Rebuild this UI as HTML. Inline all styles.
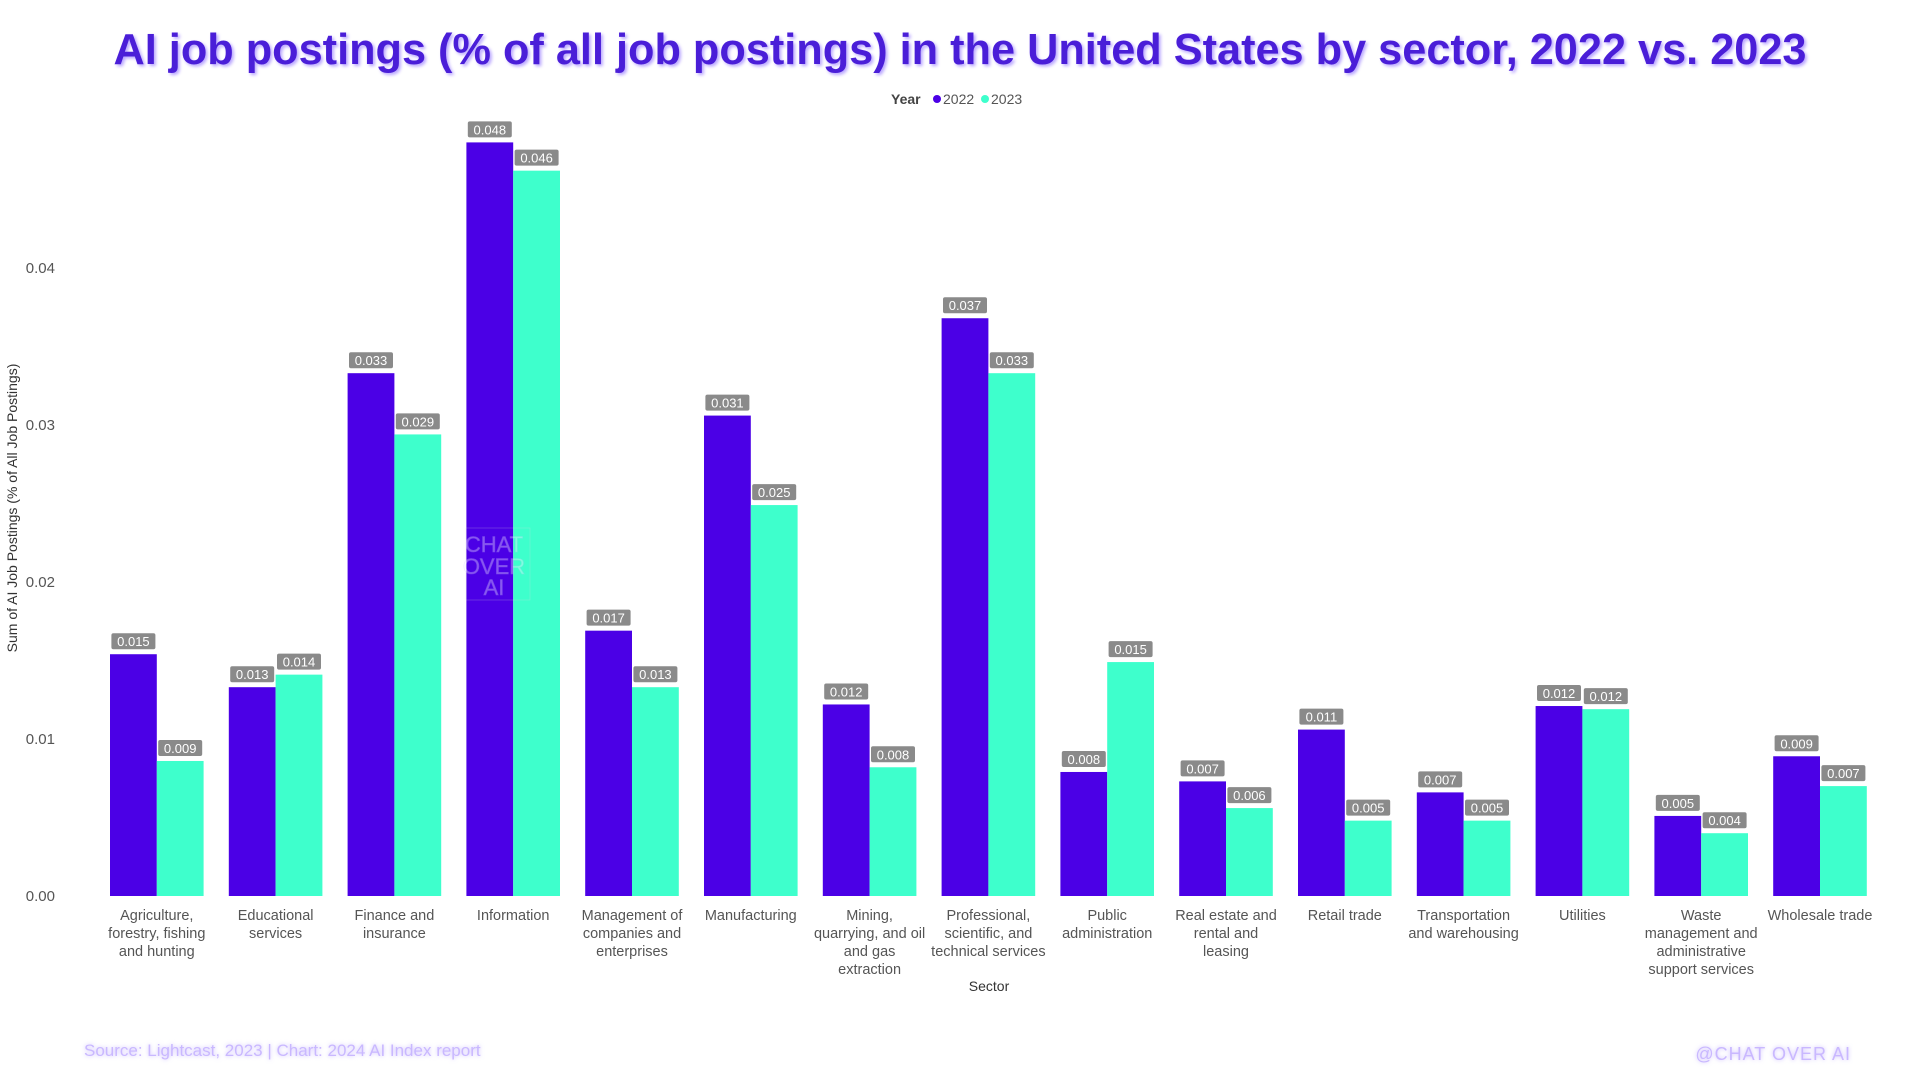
<!DOCTYPE html>
<html><head><meta charset="utf-8">
<style>
html,body{margin:0;padding:0;background:#fff;}
svg{display:block;font-family:"Liberation Sans",sans-serif;}
</style></head>
<body>
<svg id="chart" width="1920" height="1080" viewBox="0 0 1920 1080" xmlns="http://www.w3.org/2000/svg">
<defs>
<filter id="glow" x="-10%" y="-50%" width="120%" height="200%"><feGaussianBlur stdDeviation="2" result="b"/><feMerge><feMergeNode in="b"/><feMergeNode in="SourceGraphic"/></feMerge></filter>
</defs>
<text x="960" y="64" text-anchor="middle" font-size="44" font-weight="bold" fill="#4a1ed8" textLength="1693" lengthAdjust="spacingAndGlyphs" style="text-shadow:2px 2px 3px #b9a6ff">AI job postings (% of all job postings) in the United States by sector, 2022 vs. 2023</text>
<g font-size="14">
<text x="891" y="104" font-weight="bold" fill="#444">Year</text>
<circle cx="937" cy="99" r="4" fill="#4b00e6"/>
<text x="943" y="104" fill="#555">2022</text>
<circle cx="985" cy="99" r="4" fill="#3effcc"/>
<text x="991" y="104" fill="#555">2023</text>
</g>
<text transform="translate(17,508) rotate(-90)" text-anchor="middle" font-size="14" fill="#333">Sum of AI Job Postings (% of All Job Postings)</text>
<text x="989" y="991" text-anchor="middle" font-size="14" fill="#333">Sector</text>
<g id="yaxis"></g>
<g id="bars"></g>
<g id="xaxis"></g>
<g opacity="0.35" font-size="22" fill="#fff" stroke="#c9c0ff" stroke-width="0.6" text-anchor="middle">
<rect x="466" y="528" width="64" height="72" fill="none" stroke="#ddd"/>
<text x="494" y="552">CHAT</text><text x="494" y="574">OVER</text><text x="494" y="595">AI</text>
</g>
<text x="84" y="1056" font-size="17" fill="#c9b8ff" filter="url(#glow)">Source: Lightcast, 2023 | Chart: 2024 AI Index report</text>
<text x="1851" y="1060" text-anchor="end" font-size="18" fill="#c9b8ff" filter="url(#glow)" letter-spacing="1">@CHAT OVER AI</text>
</svg>
<script>
const categories = [
 ["Agriculture,","forestry, fishing","and hunting"],
 ["Educational","services"],
 ["Finance and","insurance"],
 ["Information"],
 ["Management of","companies and","enterprises"],
 ["Manufacturing"],
 ["Mining,","quarrying, and oil","and gas","extraction"],
 ["Professional,","scientific, and","technical services"],
 ["Public","administration"],
 ["Real estate and","rental and","leasing"],
 ["Retail trade"],
 ["Transportation","and warehousing"],
 ["Utilities"],
 ["Waste","management and","administrative","support services"],
 ["Wholesale trade"]
];
const values2022 = [0.0154,0.0133,0.0333,0.0480,0.0169,0.0306,0.0122,0.0368,0.0079,0.0073,0.0106,0.0066,0.0121,0.0051,0.0089];
const values2023 = [0.0086,0.0141,0.0294,0.0462,0.0133,0.0249,0.0082,0.0333,0.0149,0.0056,0.0048,0.0048,0.0119,0.0040,0.0070];
const yTicks = [0, 0.01, 0.02, 0.03, 0.04];
const yTickLabels = ["0.00","0.01","0.02","0.03","0.04"];

const NS = "http://www.w3.org/2000/svg";
const baseY = 896, pxPerUnit = 15700;
const x0 = 110, step = 118.8, barW = 46.8;
function yScale(v){ return baseY - v * pxPerUnit; }
function xScale(i){ return x0 + i * step; }
function mk(tag, attrs, parent){ const e=document.createElementNS(NS,tag); for(const k in attrs) e.setAttribute(k,attrs[k]); parent.appendChild(e); return e; }

const yax = document.getElementById('yaxis');
yTicks.forEach((t,i)=>{
  const tx = mk('text',{x:55,y:yScale(t)+5,'text-anchor':'end','font-size':15,fill:'#555'},yax);
  
  
  tx.textContent = yTickLabels[i];
});

const bars = document.getElementById('bars');
const xax = document.getElementById('xaxis');
function drawBar(v, x, color, name){
  const y = yScale(v);
  const r = mk('rect',{x:x,y:y,width:barW,height:baseY-y,fill:color},bars);
  
  
  const lx = x + barW/2;
  const box = mk('rect',{x:lx-22,y:y-21,width:44,height:16,rx:2,fill:'#8a8a8a'},bars);
  
  
  const t = mk('text',{x:lx,y:y-8,'text-anchor':'middle','font-size':13,fill:'#fff'},bars);
  
  
  t.textContent = v.toFixed(3);
}
categories.forEach((lines,i)=>{
  const gx = xScale(i);
  drawBar(values2022[i], gx, '#4b00e6', 'bar-2022');
  drawBar(values2023[i], gx+barW, '#3effcc', 'bar-2023');
  const cx = gx + barW;
  lines.forEach((ln,j)=>{
    const t = mk('text',{x:cx,y:920+j*18,'text-anchor':'middle','font-size':14.5,fill:'#555'},xax);
    
    
    t.textContent = ln;
  });
});
</script>
</body></html>
